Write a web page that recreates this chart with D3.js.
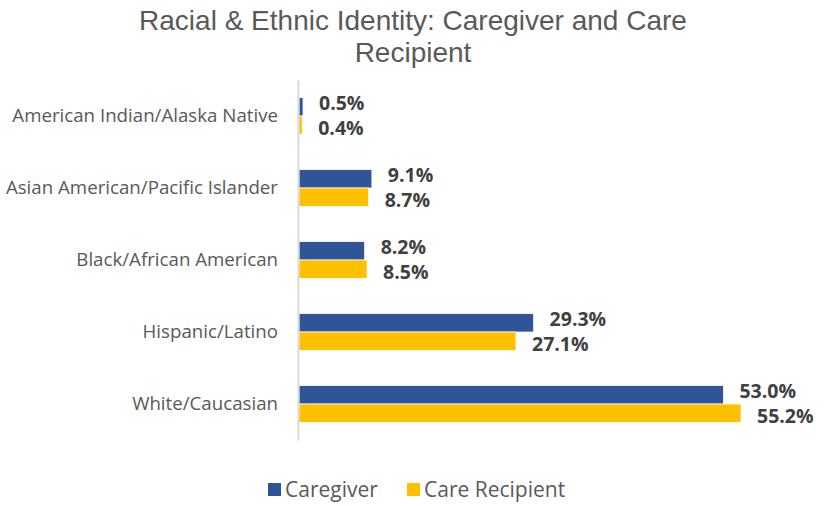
<!DOCTYPE html>
<html>
<head>
<meta charset="utf-8">
<script src="https://cdn.jsdelivr.net/npm/d3@7"></script>
<style>
  body { margin: 0; background: #fff; }
  svg { display: block; }
</style>
</head>
<body>
<div id="chart"></div>
<script>
const FRAME_WIDTH = 826;
const FRAME_HEIGHT = 506;
const MARGINS = {left: 299, right: 30, top: 80, bottom: 66};

const CATEGORIES = ["American Indian/Alaska Native", "Asian American/Pacific Islander",
                    "Black/African American", "Hispanic/Latino", "White/Caucasian"];
const SERIES = ["Caregiver", "Care Recipient"];
const CAREGIVER = [0.5, 9.1, 8.2, 29.3, 53.0];
const CARE_RECIPIENT = [0.4, 8.7, 8.5, 27.1, 55.2];
const COLORS = ["#2F5597", "#FFC000"];

const data = CATEGORIES.map((c, i) => ({cat: c, values: [CAREGIVER[i], CARE_RECIPIENT[i]]}));

const svg = d3.select("#chart")
  .append("svg")
    .attr("width", FRAME_WIDTH)
    .attr("height", FRAME_HEIGHT);

// scales
const X_SCALE = d3.scaleLinear()
  .domain([0, 55.2])
  .range([MARGINS.left, MARGINS.left + 442]);

const Y_SCALE = d3.scaleBand()
  .domain(CATEGORIES)
  .range([MARGINS.top, FRAME_HEIGHT - MARGINS.bottom])
  .paddingInner(0.49)
  .paddingOuter(0.245);

const Y_SUB = d3.scaleBand()
  .domain([0, 1])
  .range([0, Y_SCALE.bandwidth()]);

// title
svg.append("text")
  .attr("x", 413)
  .attr("y", 30)
  .attr("text-anchor", "middle")
  .style("font-family", "'Liberation Sans', Arial, sans-serif")
  .style("font-size", "28px")
  .style("fill", "#595959")
  .selectAll("tspan")
  .data(["Racial & Ethnic Identity: Caregiver and Care", "Recipient"])
  .enter()
  .append("tspan")
    .attr("x", 413)
    .attr("dy", (d, i) => i === 0 ? 0 : 32)
    .text(d => d);

// bars
const groups = svg.selectAll(".grp")
  .data(data)
  .enter()
  .append("g")
    .attr("class", "grp")
    .attr("transform", d => `translate(0,${Y_SCALE(d.cat)})`);

groups.selectAll("rect")
  .data(d => d.values)
  .enter()
  .append("rect")
    .attr("x", X_SCALE(0))
    .attr("y", (d, i) => Y_SUB(i))
    .attr("width", d => X_SCALE(d) - X_SCALE(0))
    .attr("height", Y_SUB.bandwidth())
    .attr("fill", (d, i) => COLORS[i])
    .attr("stroke", "#ffffff")
    .attr("stroke-width", 0.75);

// value labels, nudged apart like the original
groups.selectAll(".lbl")
  .data(d => d.values)
  .enter()
  .append("text")
    .attr("class", "lbl")
    .attr("x", d => X_SCALE(d) + 16)
    .attr("y", (d, i) => Y_SUB(i) + Y_SUB.bandwidth() / 2 + (i === 0 ? -4 : 3))
    .attr("dy", "0.35em")
    .style("font-family", "'Open Sans', sans-serif")
    .style("font-size", "19.5px")
    .style("font-weight", "bold")
    .style("fill", "#404040")
    .text(d => d.toFixed(1) + "%");

// y axis
const yAxis = svg.append("g")
  .attr("transform", `translate(${MARGINS.left - 1},0)`)
  .call(d3.axisLeft(Y_SCALE).tickSize(0).tickPadding(20));

yAxis.select(".domain")
  .attr("stroke", "#d9d9d9")
  .attr("stroke-width", 2);

yAxis.selectAll("text")
  .style("font-family", "'Open Sans', sans-serif")
  .style("font-size", "18.7px")
  .style("fill", "#595959");

// legend
const legend = svg.append("g")
  .attr("transform", "translate(268,483)");

const legendX = [0, 139];
SERIES.forEach((s, i) => {
  legend.append("rect")
    .attr("x", legendX[i])
    .attr("y", 0)
    .attr("width", 13)
    .attr("height", 13)
    .attr("fill", COLORS[i]);
  legend.append("text")
    .attr("x", legendX[i] + 17)
    .attr("y", 7)
    .attr("dy", "0.35em")
    .style("font-family", "'Open Sans', sans-serif")
    .style("font-size", "21px")
    .style("fill", "#595959")
    .text(s);
});
</script>
</body>
</html>
